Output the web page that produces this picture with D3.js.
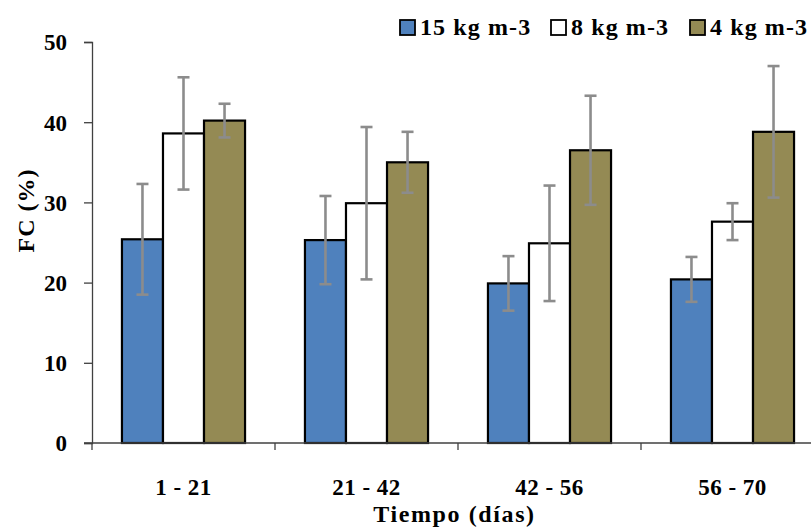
<!DOCTYPE html>
<html>
<head>
<meta charset="utf-8">
<script src="https://cdn.jsdelivr.net/npm/d3@7"></script>
<style>
	body { margin: 0; background: #fff; }
	text { font-family: "Liberation Serif", "Times New Roman", serif; font-weight: bold; fill: #000; }
</style>
</head>
<body>
<div id="container"></div>
<script>
// data
const periods = ["1 - 21", "21 - 42", "42 - 56", "56 - 70"]
const series = ["15 kg m-3", "8 kg m-3", "4 kg m-3"]
const fc15 = [25.4, 25.3, 19.9, 20.4]
const fc8 = [38.6, 29.9, 24.9, 27.6]
const fc4 = [40.2, 35.0, 36.5, 38.8]
const err15 = [6.9, 5.5, 3.4, 2.8]
const err8 = [7.0, 9.5, 7.2, 2.3]
const err4 = [2.1, 3.8, 6.8, 8.2]
const yTicks = [0, 10, 20, 30, 40, 50]

const colors = ["#4F81BD", "#FFFFFF", "#948A54"]
const means = [fc15, fc8, fc4]
const errs = [err15, err8, err4]

const data = periods.map((p, i) => ({
	period: p,
	bars: series.map((s, j) => ({ series: s, value: means[j][i], err: errs[j][i] })),
}))

// dimensions
const width = 811
const height = 527
const margin = { top: 42, right: -13, bottom: 84, left: 92 }
const boundedWidth = width - margin.left - margin.right
const boundedHeight = height - margin.top - margin.bottom

const svg = d3.select("#container")
	.append("svg")
	.attr("width", width)
	.attr("height", height)

const bounds = svg.append("g")
	.attr("transform", `translate(${margin.left},${margin.top})`)

// scales
const x = d3.scaleBand()
	.domain(periods)
	.range([0, boundedWidth])

const xSub = d3.scaleBand()
	.domain(series)
	.range([0, x.bandwidth()])
	.paddingOuter(0.73)

const y = d3.scaleLinear()
	.domain([0, 50])
	.range([boundedHeight, 0])

// y axis
const yAxis = bounds.append("g")
	.call(d3.axisLeft(y).tickValues(yTicks).tickSize(8).tickPadding(17))
yAxis.select(".domain").attr("stroke", "#404040").attr("stroke-width", 1.3)
yAxis.selectAll(".tick line").attr("stroke", "#404040").attr("stroke-width", 1.3)
yAxis.selectAll(".tick text").style("font-size", "23px").attr("dy", "0.34em")

// bars
const groups = bounds.selectAll(".group")
	.data(data)
	.join("g")
	.attr("class", "group")
	.attr("transform", d => `translate(${x(d.period)},0)`)

groups.selectAll("rect")
	.data(d => d.bars)
	.join("rect")
	.attr("x", d => xSub(d.series))
	.attr("width", xSub.bandwidth())
	.attr("y", d => y(d.value))
	.attr("height", d => y(0) - y(d.value))
	.attr("fill", (d, j) => colors[j])
	.attr("stroke", "#000")
	.attr("stroke-width", 2.2)

// error bars
const errG = groups.selectAll(".err")
	.data(d => d.bars)
	.join("g")
	.attr("class", "err")
	.attr("stroke", "#8C8C8C")
	.attr("stroke-width", 2.6)
	.attr("transform", d => `translate(${xSub(d.series) + xSub.bandwidth() / 2},0)`)

errG.append("line")
	.attr("y1", d => y(d.value + d.err))
	.attr("y2", d => y(d.value - d.err))
errG.append("line")
	.attr("x1", -6).attr("x2", 6)
	.attr("y1", d => y(d.value + d.err))
	.attr("y2", d => y(d.value + d.err))
errG.append("line")
	.attr("x1", -6).attr("x2", 6)
	.attr("y1", d => y(d.value - d.err))
	.attr("y2", d => y(d.value - d.err))

// x axis: ticks between categories
const edges = periods.map(p => x(p)).concat([boundedWidth])
const xAxis = bounds.append("g")
	.attr("transform", `translate(0,${boundedHeight})`)
xAxis.append("line")
	.attr("x1", -8).attr("x2", boundedWidth)
	.attr("stroke", "#404040").attr("stroke-width", 1.3)
xAxis.selectAll(".xt")
	.data(edges)
	.join("line")
	.attr("class", "xt")
	.attr("x1", d => d).attr("x2", d => d)
	.attr("y1", 0).attr("y2", 7)
	.attr("stroke", "#404040").attr("stroke-width", 1.3)
xAxis.selectAll(".xl")
	.data(periods)
	.join("text")
	.attr("class", "xl")
	.attr("x", d => x(d) + x.bandwidth() / 2)
	.attr("y", 52)
	.attr("text-anchor", "middle")
	.style("font-size", "23px")
	.style("letter-spacing", "0.5px")
	.text(d => d)

// axis titles
svg.append("text")
	.attr("x", margin.left + (width - margin.left) / 2 + 3)
	.attr("y", 522)
	.attr("text-anchor", "middle")
	.style("font-size", "24px")
	.style("letter-spacing", "1.6px")
	.text("Tiempo (días)")

svg.append("text")
	.attr("transform", `translate(34,${margin.top + y(29)}) rotate(-90)`)
	.attr("text-anchor", "middle")
	.style("font-size", "24px")
	.style("letter-spacing", "1px")
	.text("FC (%)")

// legend
const legendX = [400, 551, 690]
const legend = svg.append("g")
	.selectAll("g")
	.data(series)
	.join("g")
	.attr("transform", (d, i) => `translate(${legendX[i]},20)`)
legend.append("rect")
	.attr("width", 15).attr("height", 15)
	.attr("fill", (d, i) => colors[i])
	.attr("stroke", "#000")
	.attr("stroke-width", 1.8)
legend.append("text")
	.attr("x", 20)
	.attr("y", 15)
	.style("font-size", "24px")
	.style("letter-spacing", "1.1px")
	.text(d => d)
</script>
</body>
</html>
